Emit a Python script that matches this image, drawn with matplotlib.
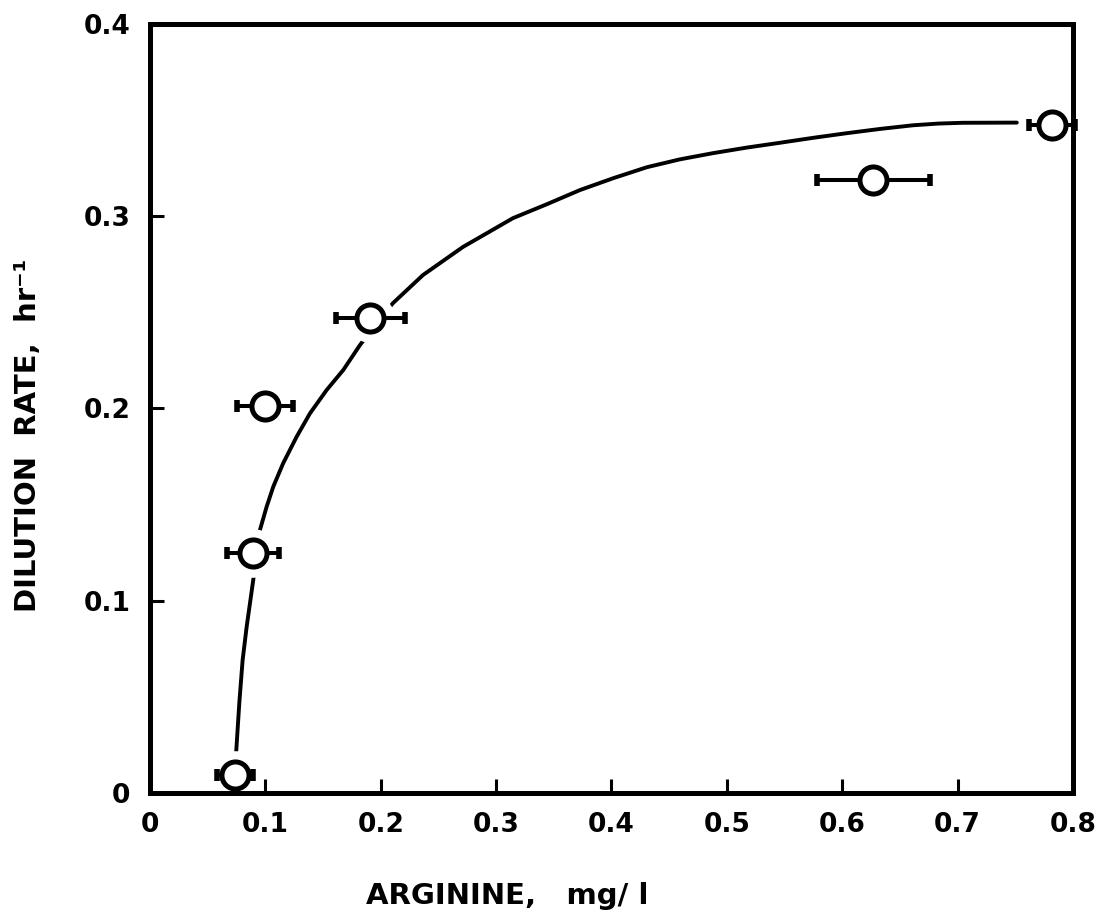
import matplotlib
matplotlib.use("Agg")
import matplotlib.pyplot as plt

# Measured data points (arginine mg/l, dilution rate 1/hr) with horizontal error
arginine = [0.0737, 0.0893, 0.0997, 0.1910, 0.6270, 0.7816]
dilution = [0.0094, 0.1248, 0.2013, 0.2470, 0.3188, 0.3474]
arg_err = [0.016, 0.0225, 0.024, 0.030, 0.049, 0.020]

# Hand-drawn fitted curve
curve_x = [0.0744, 0.0774, 0.0803, 0.0838, 0.0895, 0.0953, 0.1011, 0.1069,
           0.1155, 0.1271, 0.1387, 0.1531, 0.1675, 0.1820, 0.1960, 0.2106,
           0.2366, 0.2712, 0.3146, 0.3438, 0.3726, 0.4016, 0.4307, 0.4594,
           0.4879, 0.5172, 0.5459, 0.5750, 0.6040, 0.6327, 0.6612, 0.6833,
           0.7045, 0.7513]
curve_y = [0.0185, 0.0467, 0.0692, 0.0865, 0.1108, 0.1368, 0.1489, 0.1594,
           0.1716, 0.1853, 0.1975, 0.2096, 0.2200, 0.2330, 0.2440, 0.2548,
           0.2694, 0.2840, 0.2990, 0.3062, 0.3136, 0.3198, 0.3255, 0.3296,
           0.3328, 0.3357, 0.3382, 0.3408, 0.3432, 0.3454, 0.3473, 0.3482,
           0.3486, 0.3487]

xticks = [0, 0.1, 0.2, 0.3, 0.4, 0.5, 0.6, 0.7, 0.8]
xticklabels = ["0", "0.1", "0.2", "0.3", "0.4", "0.5", "0.6", "0.7", "0.8"]
yticks = [0, 0.1, 0.2, 0.3, 0.4]
yticklabels = ["0", "0.1", "0.2", "0.3", "0.4"]

plt.rcParams['font.family'] = ['DejaVu Sans']

fig = plt.figure(figsize=(11.11, 9.22), dpi=100)
ax = fig.add_axes([0.135, 0.1399, 0.8308, 0.8341])

ax.plot(curve_x, curve_y, color='black', lw=2.8, zorder=1.5,
        solid_capstyle='round', solid_joinstyle='round')
# white halo around markers (the curve is broken near the circles)
ax.plot(arginine, dilution, linestyle='none', marker='o', ms=35,
        markerfacecolor='white', markeredgecolor='none', zorder=2)
ax.errorbar(arginine, dilution, xerr=arg_err, fmt='none', ecolor='black',
            elinewidth=2.9, capsize=4.3, capthick=4.0, zorder=3, clip_on=False)
ax.plot(arginine, dilution, linestyle='none', marker='o', ms=19.5, mew=3.6,
        markerfacecolor='white', markeredgecolor='black', zorder=4, clip_on=False)

ax.set_xlim(0, 0.8)
ax.set_ylim(0, 0.4)
ax.set_xticks(xticks)
ax.set_xticklabels(xticklabels)
ax.set_yticks(yticks)
ax.set_yticklabels(yticklabels)

for s in ax.spines.values():
    s.set_linewidth(3.6)
    s.set_color('black')

ax.tick_params(axis='both', direction='in', length=10, width=2.2,
               labelsize=19, pad=14, colors='black')
for lab in ax.get_xticklabels() + ax.get_yticklabels():
    lab.set_fontweight('bold')

ax.set_xlabel("ARGININE,   mg/ l", fontsize=21, fontweight='bold')
ax.set_ylabel("DILUTION  RATE,  hr\u207b\u00b9", fontsize=21, fontweight='bold')
ax.xaxis.set_label_coords(0.387, -0.116)
ax.yaxis.set_label_coords(-0.117, 0.465)

fig.savefig("out.png", dpi=100, facecolor='white')
